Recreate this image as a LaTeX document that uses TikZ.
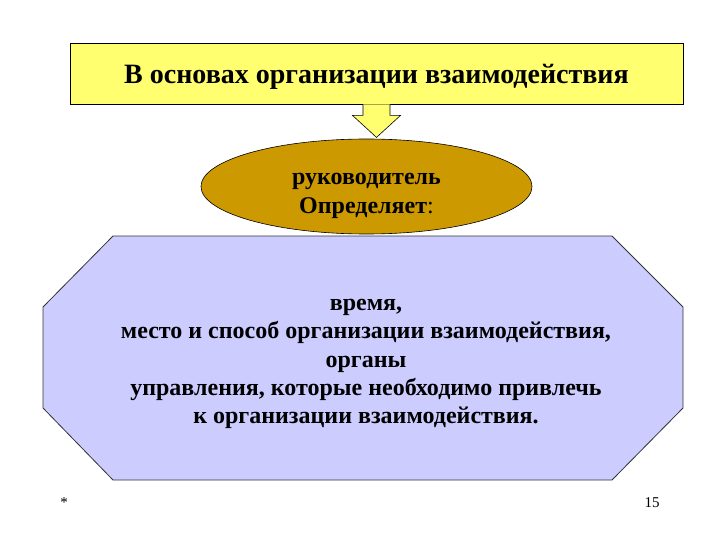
\documentclass[tikz,border=0pt]{standalone}
\usepackage{fontspec}
\setmainfont{Liberation Serif}
\usepackage{tikz}
\usetikzlibrary{shapes.geometric, positioning, calc}
\definecolor{titleyellow}{HTML}{FFFF70}
\definecolor{leadgold}{HTML}{CC9900}
\definecolor{bodylilac}{HTML}{CCCCFF}
\definecolor{edgegray}{HTML}{333333}

\begin{document}
\begin{tikzpicture}[x=1pt, y=-1pt]
  \useasboundingbox (0,0) rectangle (720,540);
  % heading
  \node[draw=black, fill=titleyellow, line width=0.8pt, minimum width=613pt, minimum height=61pt, inner sep=0pt, text depth=0pt, font=\fontsize{28}{32}\selectfont\bfseries] (title) at (376.5,73.5) {В основах организации взаимодействия};

  % who decides
  \node[draw=black, fill=leadgold, ellipse, line width=0.6pt, minimum width=331pt, minimum height=95pt, inner sep=0pt] (lead) at (366.5,186.5) {};
  \node[align=center, font=\fontsize{24}{29}\selectfont\bfseries] (leadtext) at ($(lead.center)+(0,9)$) {руководитель\\Определяет\textmd{:}};

  % block arrow from heading down to the ellipse
  \coordinate (tip) at ($(title.south)+(0,33)$);
  \draw[black, fill=titleyellow, line width=0.6pt] ($(title.south)+(-13.5,0)$) -- ($(title.south)+(-13.5,11)$) -- ($(title.south)+(-24,11)$) -- (tip) -- ($(title.south)+(24,11)$) -- ($(title.south)+(13.5,11)$) -- ($(title.south)+(13.5,0)$);

  % octagon with the list
  \draw[edgegray, fill=bodylilac, line width=0.8pt] (113,236) -- (612,236) -- (683,307) -- (683,408) -- (612,480) -- (113,480) -- (43,408) -- (43,307) -- cycle;
  \node[align=center, font=\fontsize{24}{28.3}\selectfont\bfseries] (body) at (366,364) {время,\\место и способ организации взаимодействия,\\органы\\ управления, которые необходимо привлечь\\к организации взаимодействия.};

  % footer
  \node[font=\fontsize{15}{17}\selectfont] (star) at (64,503) {*};
  \node[font=\fontsize{15}{17}\selectfont] (page) at (652,503) {15};
\end{tikzpicture}
\end{document}
